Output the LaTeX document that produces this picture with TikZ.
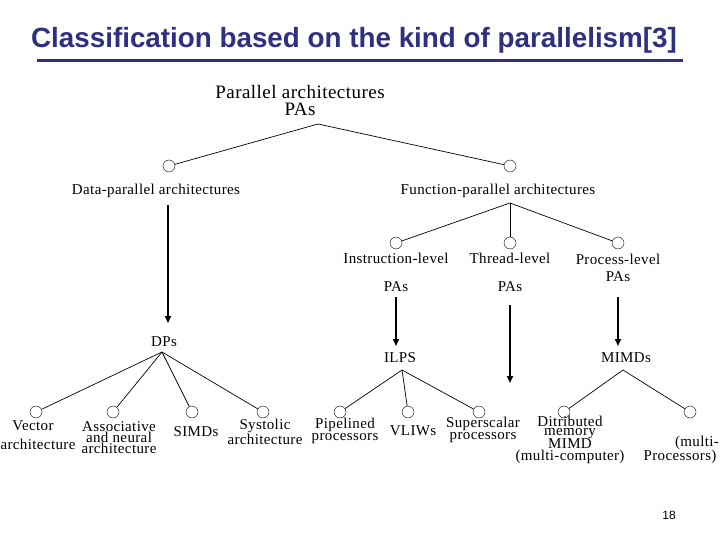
\documentclass[tikz,border=0pt]{standalone}
\usepackage{fontspec}
\setmainfont[LetterSpace=2.5]{Liberation Serif}
\newfontfamily\titlefont{Liberation Sans}
\usetikzlibrary{arrows.meta}
\definecolor{titleblue}{RGB}{46,48,128}
\begin{document}
\begin{tikzpicture}[x=1pt,y=-1pt,
  leaf/.style={circle,draw,thin,minimum size=12pt,inner sep=0pt},
  lbl/.style={inner sep=0pt,align=center,font=\fontsize{15}{12.5}\selectfont},
  big/.style={inner sep=0pt,align=center,font=\fontsize{19}{18}\selectfont},
  edge/.style={line width=0.7pt},
  flow/.style={line width=1.6pt,-{Triangle[length=7pt,width=6pt]}}]
\useasboundingbox (0,0) rectangle (720,540);
% title
\node[inner sep=0pt,text=titleblue,font=\titlefont\bfseries\fontsize{27.8}{27.8}\selectfont] (title) at (354,40) {Classification based on the kind of parallelism[3]};
\draw[titleblue,line width=3pt] (37,61) coordinate (ul1) -- (683,61) coordinate (ul2);
% root
\node[big] (root) at (300,101) {Parallel architectures\\[-1pt]PAs};
\coordinate (rootapex) at (318,124);
\node[leaf] (dpc) at (169,166) {};
\node[leaf] (fpc) at (510,166) {};
\draw[edge] (dpc) -- (rootapex) -- (fpc);
\node[lbl] (dpl) at (156,191) {Data-parallel architectures};
\node[lbl] (fpl) at (498,191) {Function-parallel architectures};
% function level
\coordinate (fapex) at (510,203);
\node[leaf] (ilc) at (396,243) {};
\node[leaf] (thc) at (510,243) {};
\node[leaf] (prc) at (618,243) {};
\draw[edge] (ilc) -- (fapex) -- (prc);
\draw[edge] (fapex) -- (thc);
\node[lbl] (ill) at (396,258) {Instruction-level};
\node[lbl] (thl) at (510,258) {Thread-level};
\node[lbl] (prl) at (618,259) {Process-level};
\node[lbl] (ilp) at (396,287) {PAs};
\node[lbl] (thp) at (510,287) {PAs};
\node[lbl] (prp) at (618,277) {PAs};
% arrows
\coordinate (dpa1) at (168,205); \coordinate (dpa2) at (168,323);
\coordinate (ila1) at (396,297); \coordinate (ila2) at (396,346);
\coordinate (tha1) at (510,305); \coordinate (tha2) at (510,383);
\coordinate (pra1) at (618,297); \coordinate (pra2) at (618,346);
\draw[flow] (dpa1) -- (dpa2);
\draw[flow] (ila1) -- (ila2);
\draw[flow] (tha1) -- (tha2);
\draw[flow] (pra1) -- (pra2);
% second level headers
\node[lbl] (dps) at (164,342) {DPs};
\node[lbl] (ilps) at (400,358) {ILPS};
\node[lbl] (mimds) at (626,358) {MIMDs};
\coordinate (dpapex) at (162,352);
\coordinate (ilapex) at (402,370);
\coordinate (miapex) at (623,370);
% DP children
\node[leaf] (vec) at (36,412) {};
\node[leaf] (ass) at (113,412) {};
\node[leaf] (sim) at (192,412) {};
\node[leaf] (sys) at (263,412) {};
\foreach \n in {vec,ass,sim,sys} \draw[edge] (dpapex) -- (\n);
% ILP children
\node[leaf] (pip) at (340,412) {};
\node[leaf] (vli) at (408,412) {};
\node[leaf] (sup) at (479,412) {};
\foreach \n in {pip,vli,sup} \draw[edge] (ilapex) -- (\n);
% MIMD children
\node[leaf] (dis) at (564,412) {};
\node[leaf] (mul) at (690,412) {};
\foreach \n in {dis,mul} \draw[edge] (miapex) -- (\n);
% leaf labels
\node[lbl] (vecl1) at (33,426) {Vector};
\node[lbl] (vecl2) at (38,444) {architecture};
\node[lbl,font=\fontsize{15}{12}\selectfont] (assl) at (119,438) {Associative\\[-1pt]and neural\\[-1pt]architecture};
\node[lbl] (siml) at (196,432) {SIMDs};
\node[lbl] (sysl) at (265,432) {Systolic\\architecture};
\node[lbl] (pipl) at (345,431) {Pipelined\\processors};
\node[lbl] (vlil) at (413,431) {VLIWs};
\node[lbl] (supl) at (483,430) {Superscalar\\processors};
\node[lbl,font=\fontsize{15}{11}\selectfont] (disl) at (570,440) {Ditributed\\[-2pt]memory\\[-1pt]MIMD\\[1pt](multi-computer)};
\node[lbl] (mul1) at (697,443) {(multi-};
\node[lbl] (mul2) at (680,457) {Processors)};
% page number
\node[inner sep=0pt,font=\titlefont\fontsize{12}{12}\selectfont] (page) at (669,515) {18};
\end{tikzpicture}
\end{document}
